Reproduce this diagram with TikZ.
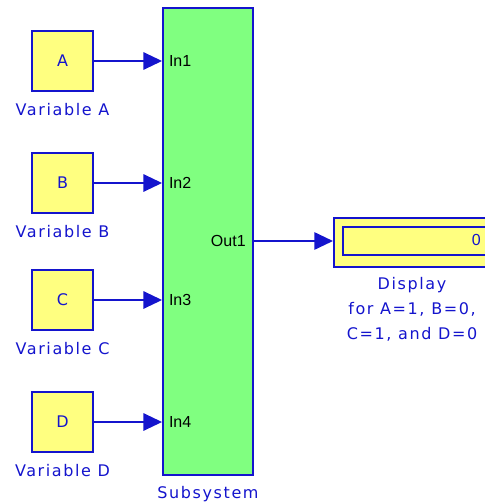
\documentclass[tikz,border=0pt]{standalone}
\usepackage{fontspec}
\setmainfont{Liberation Sans}
\newfontfamily\slfont[LetterSpace=10]{DejaVu Sans}
\usepackage{tikz}
\usetikzlibrary{
	arrows.meta,
	calc,
	positioning
}
\definecolor{SlBlue}{RGB}{20,20,205}
\definecolor{SlYellow}{RGB}{255,255,128}
\definecolor{SlGreen}{RGB}{128,255,128}

\tikzset{
	varblock/.style={draw=SlBlue, fill=SlYellow, line width=1.4pt, minimum width=45.5pt, minimum height=45pt, inner sep=0pt, font=\slfont\fontsize{12}{14}\selectfont, text=SlBlue},
	blocklabel/.style={font=\slfont\fontsize{12}{18.5}\selectfont, text=SlBlue, align=center, inner sep=1pt},
	portlabel/.style={font=\fontsize{12}{14}\selectfont, inner sep=0pt},
	signal/.style={draw=SlBlue, line width=1.4pt, -{Triangle[length=14pt, width=13pt]}}
}

\begin{document}
\begin{tikzpicture}[x=0.75pt, y=-0.75pt]
			\useasboundingbox (0,0) rectangle (485,503);
			\clip (0,0) rectangle (485,503);
			% sources
			\node[varblock] (varA) at (62.5,61) {A};
			\node[varblock] (varB) at (62.5,183) {B};
			\node[varblock] (varC) at (62.5,300) {C};
			\node[varblock] (varD) at (62.5,422) {D};
			\node[blocklabel, below=7.5pt of varA] (labA) {Variable A};
			\node[blocklabel, below=7.5pt of varB] (labB) {Variable B};
			\node[blocklabel, below=7.5pt of varC] (labC) {Variable C};
			\node[blocklabel, below=7.5pt of varD] (labD) {Variable D};
			% subsystem
			\node[draw=SlBlue, fill=SlGreen, line width=1.4pt, minimum width=67.5pt, minimum height=350pt, inner sep=0pt] (subsys) at (208,241.5) {};
			\node[blocklabel, below=6.5pt of subsys] (labsub) {Subsystem};
			\coordinate (p1) at (varA.east -| subsys.west);
			\coordinate (p2) at (varB.east -| subsys.west);
			\coordinate (p3) at (varC.east -| subsys.west);
			\coordinate (p4) at (varD.east -| subsys.west);
			\node[portlabel, right=5pt of p1] (in1) {In1};
			\node[portlabel, right=5pt of p2] (in2) {In2};
			\node[portlabel, right=5pt of p3] (in3) {In3};
			\node[portlabel, right=5pt of p4] (in4) {In4};
			\coordinate (q1) at (subsys.east |- 0,241);
			\node[portlabel, left=6pt of q1] (out1) {Out1};
			% display
			\node[draw=SlBlue, fill=SlYellow, line width=1.4pt, minimum width=120pt, minimum height=37pt, inner sep=0pt, anchor=west] (disp) at (333,242.5) {};
			\draw[SlBlue, line width=1.4pt] ($(disp.north west)+(10,10)$) rectangle ($(disp.south east)+(-8,-13)$);
			\node[portlabel, text=SlBlue, anchor=east] (val) at (481,240) {0};
			\node[blocklabel, anchor=north] (labdisp) at (412,276) {Display\\for A=1, B=0,\\C=1, and D=0};
			% signals
			\draw[signal] (varA.east) -- (p1);
			\draw[signal] (varB.east) -- (p2);
			\draw[signal] (varC.east) -- (p3);
			\draw[signal] (varD.east) -- (p4);
			\draw[signal] (q1) -- (disp.west |- q1);
		\end{tikzpicture}
\end{document}
